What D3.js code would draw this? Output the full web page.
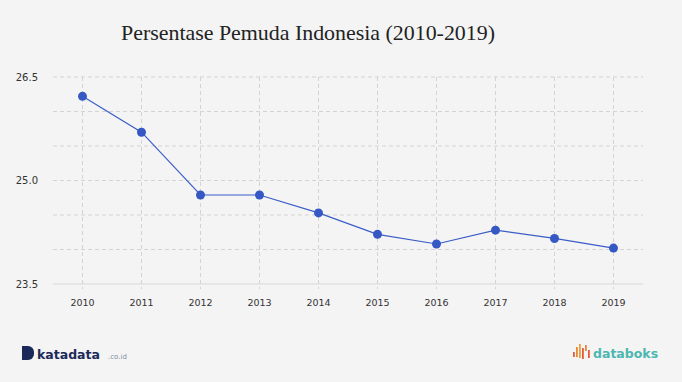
<!DOCTYPE html>
<html><head><meta charset="utf-8">
<script src="https://cdnjs.cloudflare.com/ajax/libs/d3/7.8.5/d3.min.js"></script>
<style>html,body{margin:0;padding:0;background:#f4f4f4;}svg{display:block;}</style>
</head><body>
<svg id="chart" width="682" height="382"></svg>
<script>
const years = ["2010","2011","2012","2013","2014","2015","2016","2017","2018","2019"];
const values = [26.22, 25.70, 24.79, 24.79, 24.53, 24.22, 24.08, 24.28, 24.16, 24.02];
const yTickLabels = [23.5, 25.0, 26.5];
const yGridValues = [23.5, 24.0, 24.5, 25.0, 25.5, 26.0, 26.5];
const title = "Persentase Pemuda Indonesia (2010-2019)";

(function(){
const svg = d3.select("#chart");
svg.append("rect").attr("width",682).attr("height",382).attr("fill","#f4f4f4");

const pL = 53, pR = 643, pT = 77, pB = 284;
const x = d3.scaleBand().domain(years).range([pL, pR]);
const y = d3.scaleLinear().domain([23.5, 26.5]).range([pB, pT]);
const cx = d => x(d) + x.bandwidth()/2;

svg.append("text").attr("x",121).attr("y",40)
  .attr("font-family","'Liberation Serif', serif").attr("font-size",21).attr("fill","#222")
  .attr("textLength",374).attr("lengthAdjust","spacingAndGlyphs")
  .text(title);

svg.append("g").selectAll("line").data(yGridValues.filter(v=>v!==23.5)).join("line")
  .attr("x1",pL).attr("x2",pR).attr("y1",d=>y(d)).attr("y2",d=>y(d))
  .attr("stroke","#d3d3d3").attr("stroke-width",1).attr("stroke-dasharray","4,3");
svg.append("g").selectAll("line").data(years).join("line")
  .attr("x1",d=>cx(d)).attr("x2",d=>cx(d)).attr("y1",pT).attr("y2",pB+5)
  .attr("stroke","#d3d3d3").attr("stroke-width",1).attr("stroke-dasharray","4,3");
svg.append("line").attr("x1",pL).attr("x2",pR).attr("y1",y(23.5)).attr("y2",y(23.5))
  .attr("stroke","#d8d8d8").attr("stroke-width",1.2);

svg.append("g").selectAll("text").data(yTickLabels).join("text")
  .attr("x",38).attr("y",d=>y(d)).attr("dy","0.35em").attr("text-anchor","end")
  .attr("font-family","'DejaVu Sans', sans-serif").attr("font-size",10).attr("fill","#333")
  .text(d=>d3.format(".1f")(d));
svg.append("g").selectAll("text").data(years).join("text")
  .attr("x",d=>cx(d)).attr("y",303).attr("dy","0.35em").attr("text-anchor","middle")
  .attr("font-family","'DejaVu Sans', sans-serif").attr("font-size",9.5).attr("fill","#333")
  .text(d=>d);

const line = d3.line().x((d,i)=>cx(years[i])).y(d=>y(d));
svg.append("path").datum(values).attr("d",line).attr("fill","none")
  .attr("stroke","#3a5dc7").attr("stroke-width",1.2);
svg.append("g").selectAll("circle").data(values).join("circle")
  .attr("cx",(d,i)=>cx(years[i])).attr("cy",d=>y(d)).attr("r",4.5)
  .attr("fill","#3558c4");

const kg = svg.append("g");
kg.append("path").attr("d","M22 346 h6 a6 6 0 0 1 6 6 v2 a6 6 0 0 1 -6 6 h-6 z").attr("fill","#1c2a5a");
kg.append("text").attr("x",37).attr("y",359).attr("font-family","'DejaVu Sans', sans-serif")
  .attr("font-size",12.5).attr("font-weight","bold").attr("fill","#1c2a5a").text("katadata");
kg.append("text").attr("x",108).attr("y",359).attr("font-family","'DejaVu Sans', sans-serif")
  .attr("font-size",7).attr("fill","#7f8ea0").text(".co.id");

const dg = svg.append("g");
const bars = [[573,352,5,"#e55b3c"],[576,347,10,"#e8883a"],[579,344,14,"#e7a23b"],[582,348,11,"#e55b3c"],[585,345,6,"#e8883a"],[588,350,8,"#e55b3c"]];
dg.selectAll("rect").data(bars).join("rect").attr("x",d=>d[0]).attr("y",d=>d[1]).attr("width",1.8).attr("height",d=>d[2]).attr("fill",d=>d[3]);
dg.append("text").attr("x",593).attr("y",358).attr("font-family","'DejaVu Sans', sans-serif")
  .attr("font-size",12.5).attr("fill","#4cb7b0").attr("font-weight","bold").text("databoks");
})();
</script>
</body></html>
